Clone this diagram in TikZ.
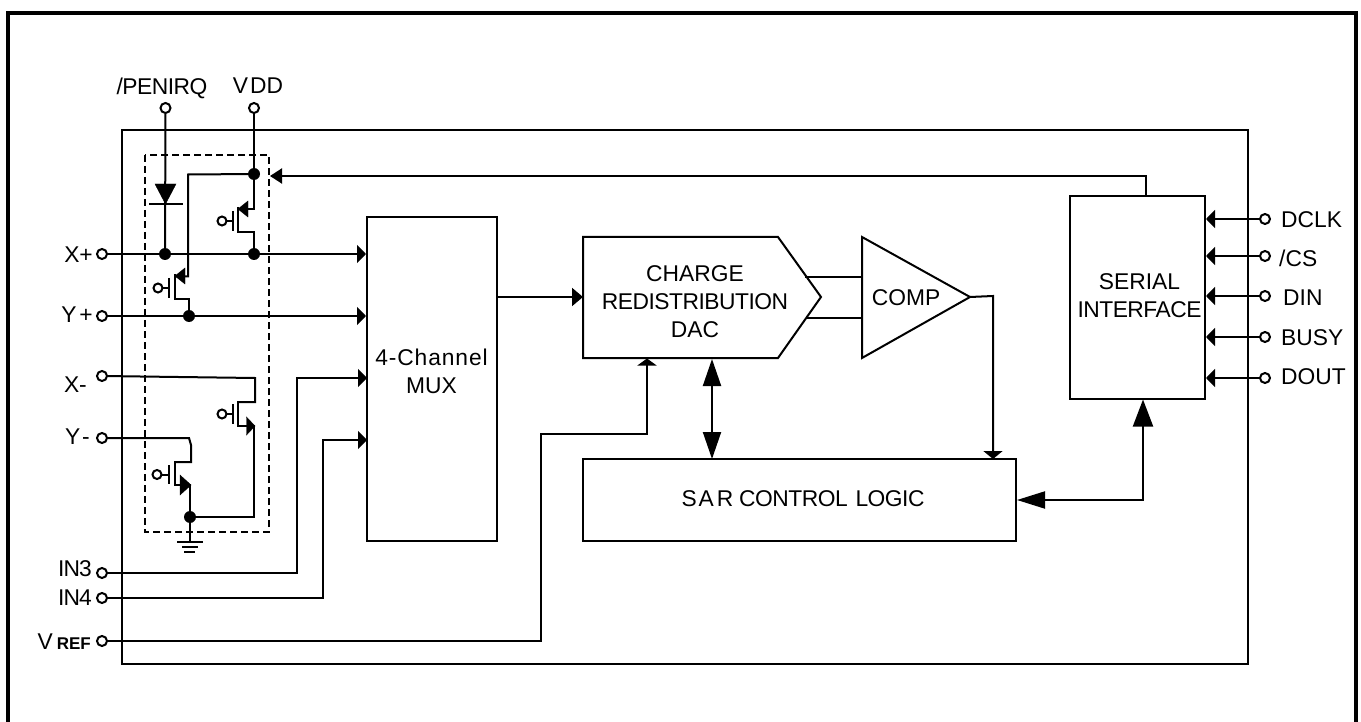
\documentclass[tikz,border=0pt]{standalone}
\usepackage{fontspec}
\setmainfont{Liberation Sans}
\usetikzlibrary{arrows.meta}
\newcommand{\tight}{\addfontfeature{LetterSpace=-2.2}}
\newcommand{\wide}{\addfontfeature{LetterSpace=4}}
\tikzset{
  x=1pt,y=-1pt,
  wire/.style={line width=2pt,line join=miter},
  boxb/.style={draw,line width=2pt,inner sep=0pt,rectangle,align=center,font=\fontsize{22.8}{28}\selectfont},
  pin/.style={circle,draw,line width=2pt,fill=white,minimum size=10pt,inner sep=0pt},
  dot/.style={circle,fill=black,minimum size=12pt,inner sep=0pt},
  lab/.style={inner sep=0pt,font=\fontsize{22.8}{28}\selectfont},
  inarrow/.style={-{Triangle[length=9pt,width=18pt]}},
  dbl/.style={{Triangle[length=27pt,width=18pt]}-{Triangle[length=27pt,width=18pt]}},
  tri/.style={fill=black},
  gatec/.style={line width=2pt}
}
\begin{document}
\begin{tikzpicture}
\useasboundingbox (0,0) rectangle (1361,722);
\fill[white] (0,0) rectangle (1361,722);
% outer frame and chip outline
\draw[line width=4pt] (8,722) -- (8,13) -- (1356,13) -- (1356,722);
\node[draw,line width=2pt,minimum width=1126pt,minimum height=534pt,inner sep=0pt] (chip) at (685,397) {};
\draw[line width=1.6pt,dash pattern=on 7pt off 4pt] (145,155) rectangle (269,532);
% blocks
\node[boxb,minimum width=130pt,minimum height=324pt] (mux) at (432,379) {};
\node[lab,align=center] (muxtext) at (431.5,371) {{\wide 4-Channel}\\MUX};
\node[boxb,minimum width=433pt,minimum height=82pt] (sar) at (799.5,500) {};
\node[lab] (sartext) at (803,499) {{\tight S\kern2pt A\kern3pt R CONTROL\ \kern2pt LOGIC}};
\node[boxb,minimum width=135pt,minimum height=203pt] (serial) at (1137.5,297.5) {};
\node[lab,align=center] (serialtext) at (1139.5,296) {SERIAL\\{\tight INTERFACE}};
\draw[line width=2pt,line join=miter] (583,237) coordinate (dacnw) -- (778,237) -- (821,297) coordinate (dactip) -- (778,358) -- (583,358) coordinate (dacsw) -- cycle;
\node[lab,align=center] (dactext) at (695,302) {CHARGE\\{\tight REDISTRIBUTION}\\DAC};
\draw[line width=2pt,line join=miter] (862,237) -- (970,297) coordinate (comptip) -- (862,358) -- cycle;
\node[lab] (comptext) at (906,298) {COMP};
% pins
\node[pin] (pPen) at (165.5,108) {};
\node[pin] (pVdd) at (254,108) {};
\node[pin] (pXp) at (102,254) {};
\node[pin] (pYp) at (102,316) {};
\node[pin] (pXm) at (102,376) {};
\node[pin] (pYm) at (102,438) {};
\node[pin] (pIn3) at (102,573) {};
\node[pin] (pIn4) at (102,598) {};
\node[pin] (pRef) at (102,641) {};
\node[pin] (pClk) at (1265,219) {};
\node[pin] (pCs) at (1265,256) {};
\node[pin] (pDin) at (1265,296) {};
\node[pin] (pBusy) at (1265,337) {};
\node[pin] (pDout) at (1265,378) {};
% pin labels
\node[lab] (lPen) at (162,88) {{\tight /PENIRQ}};
\node[lab] (lVdd) at (258,86) {V\kern2pt DD};
\node[lab,anchor=east] (lXp) at (93,255) {X+};
\node[lab,anchor=east] (lYp) at (93,315) {Y\kern3pt +};
\node[lab,anchor=east] (lXm) at (87,385) {X-};
\node[lab,anchor=east] (lYm) at (90,437) {Y\kern2pt -};
\node[lab,anchor=east] (lIn3) at (92,569) {{\addfontfeature{LetterSpace=-4}IN3}};
\node[lab,anchor=east] (lIn4) at (92,598) {{\addfontfeature{LetterSpace=-4}IN4}};
\node[lab,anchor=east] (lRef) at (91,642) {V\kern4pt{\fontsize{17}{18}\selectfont\bfseries REF}};
\node[lab,anchor=west] (lClk) at (1281,220) {DCLK};
\node[lab,anchor=west] (lCs) at (1279,258) {/CS};
\node[lab,anchor=west] (lDin) at (1283,298) {DIN};
\node[lab,anchor=west] (lBusy) at (1281,338) {BUSY};
\node[lab,anchor=west] (lDout) at (1281,377) {DOUT};
% junctions
\node[dot] (j1) at (165,254) {};
\node[dot] (j2) at (254,254) {};
\node[dot] (j3) at (254,174) {};
\node[dot] (j4) at (189,316) {};
\node[dot] (j5) at (190,517) {};
% junction-free coordinates
\coordinate (muxA) at (mux.west |- pXp);
\coordinate (muxB) at (mux.west |- pYp);
\coordinate (muxC) at (367,378);
\coordinate (muxD) at (367,440);
% mux inputs
\draw[wire,inarrow] (pXp) -- (muxA);
\draw[wire,inarrow] (pYp) -- (muxB);
\draw[wire,inarrow] (pIn3) -- (297,573) -- (297,378) -- (muxC);
\draw[wire,inarrow] (pIn4) -- (323,598) -- (323,440) -- (muxD);
\draw[wire,-{Triangle[length=11pt,width=18pt]}] (mux.east |- 0,297) -- (583,297);
% VREF
\coordinate (dacRef) at (647,358.5);
\draw[wire,-{Triangle[length=7pt,width=19pt]}] (pRef) -- (541,641) -- (541,433.5) -- (647,433.5) -- (dacRef);
% DAC-SAR
\coordinate (dacS) at (712,359);
\coordinate (sarN) at (712,459);
\draw[wire,dbl] (dacS) -- (sarN);
% DAC - COMP
\draw[wire] (805,277) -- (862,277);
\draw[wire] (806,318) -- (862,318);
\coordinate (sarC) at (993,459);
\draw[wire,-{Triangle[length=8pt,width=19pt]}] (comptip) -- (993,296) -- (sarC);
% SAR - Serial
\coordinate (serS) at (1143,399.5);
\draw[wire,{Triangle[length=28pt,width=17pt]}-{Triangle[length=27pt,width=20pt]}] (sar.east |- 0,500) -- (1143,500) -- (serS);
% Serial inputs
\foreach \p in {pClk,pCs,pDin,pBusy,pDout}
  \draw[wire,-{Triangle[length=9pt,width=18pt]}] (\p) -- (serial.east |- \p);
% feedback
\coordinate (fb) at (270,176);
\draw[wire,-{Triangle[length=12pt,width=15pt]}] (1146,196) -- (1146,176) -- (fb);
% PENIRQ + diode
\draw[wire] (pPen) -- (j1);
\draw[tri] (155,184) -- (176,184) -- (165.5,204) -- cycle;
\draw[line width=1.6pt] (149,204) -- (183,204);
% VDD + upper PMOS
\draw[wire] (pVdd) -- (j3) -- (254,209.5) -- (238,209.5);
\draw[wire] (238,207) -- (238,232) -- (254,232) -- (j2);
\draw[tri] (238,209) -- (248,201) -- (248,217) -- cycle;
\draw[wire] (233,211) -- (233,231);
\draw[wire] (233,221) -- (226,221);
\draw[gatec] (222,221) circle (4.5pt);
% lower PMOS on X+/Y+
\draw[wire] (j3) -- (188,174.5) -- (188,276.5) -- (175,276.5);
\draw[wire] (175,274) -- (175,299) -- (189,299) -- (j4);
\draw[tri] (175,276) -- (185,268) -- (185,284) -- cycle;
\draw[wire] (169,278) -- (169,298);
\draw[wire] (169,288) -- (162,288);
\draw[gatec] (158,288) circle (4.5pt);
% X- NMOS
\draw[wire] (pXm) -- (255,378) -- (255,402) -- (238,402);
\draw[wire] (238,401) -- (238,426) -- (254,426) -- (254,517) -- (j5);
\draw[tri] (255,426) -- (246.5,417) -- (246.5,435) -- cycle;
\draw[wire] (233,404) -- (233,424);
\draw[wire] (233,414) -- (226,414);
\draw[gatec] (222,414) circle (4.5pt);
% Y- NMOS
\draw[wire] (pYm) -- (189,438) -- (191,445) -- (191,462) -- (175,462);
\draw[wire] (175,461) -- (175,485) -- (190,485) -- (j5);
\draw[tri] (191,485) -- (180,475) -- (180,495) -- cycle;
\draw[wire] (169,465) -- (169,484);
\draw[wire] (169,474.5) -- (162,474.5);
\draw[gatec] (157,474.5) circle (4.5pt);
% ground
\coordinate (gnd) at (190,542);
\draw[wire] (j5) -- (gnd);
\draw[wire] (177,542) -- (203,542);
\draw[line width=1.5pt] (182,547) -- (198,547);
\draw[line width=1.5pt] (184,552) -- (195,552);
\end{tikzpicture}
\end{document}
